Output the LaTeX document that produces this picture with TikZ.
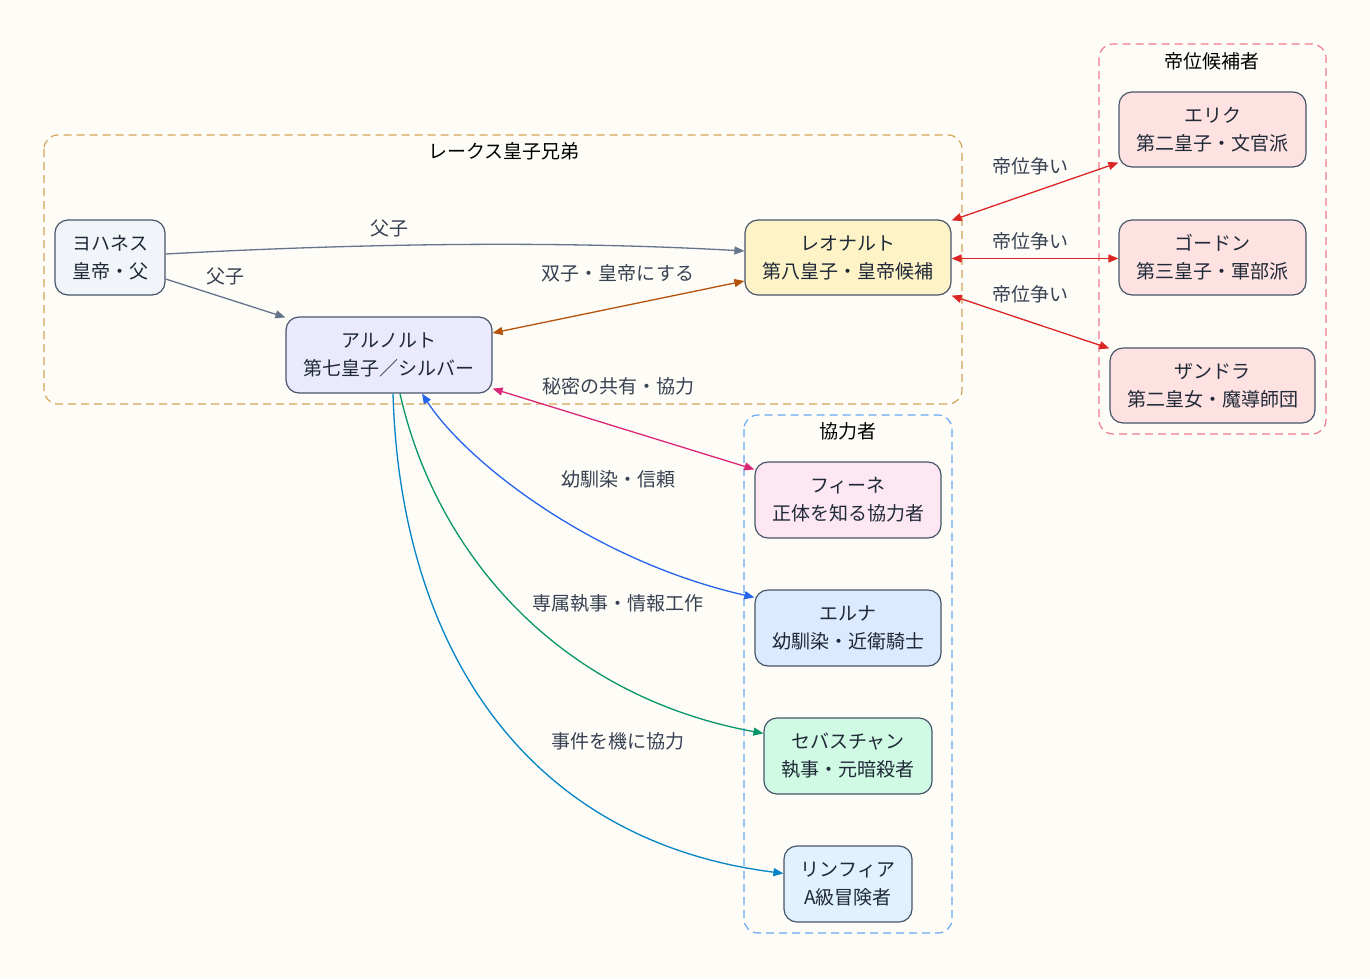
\documentclass[tikz,border=0pt]{standalone}
\usepackage{fontspec}
\setmainfont{Noto Sans CJK JP}
\usetikzlibrary{arrows.meta}
\definecolor{bg}{HTML}{FDFCF7}
\definecolor{ink}{HTML}{1F2937}
\definecolor{lab}{HTML}{374151}
\definecolor{border}{HTML}{475569}
\definecolor{cgold}{HTML}{D4A55A}
\definecolor{cpink}{HTML}{F27A8C}
\definecolor{cblue}{HTML}{6AA8F2}
\definecolor{eslate}{HTML}{64748B}
\definecolor{ebrown}{HTML}{B45309}
\definecolor{ered}{HTML}{DC2626}
\definecolor{emag}{HTML}{DB2777}
\definecolor{eblue}{HTML}{2563EB}
\definecolor{egreen}{HTML}{059669}
\definecolor{ecyan}{HTML}{0284C7}
\definecolor{fslate}{HTML}{F1F5F9}
\definecolor{fyellow}{HTML}{FEF3C7}
\definecolor{fviolet}{HTML}{EBE9FE}
\definecolor{fred}{HTML}{FEE2E2}
\definecolor{fpink}{HTML}{FCE7F3}
\definecolor{fblue}{HTML}{DBEAFE}
\definecolor{fgreen}{HTML}{D1FAE5}
\definecolor{fsky}{HTML}{E0F2FE}
\tikzset{
  person/.style={draw=border, line width=1.2pt, rounded corners=13pt, align=center,
    text=ink, font=\fontsize{19}{28}\selectfont, inner sep=0pt},
  group/.style={dashed, dash pattern=on 8pt off 5pt, line width=1.2pt, rounded corners=14pt},
  grouptitle/.style={text=black, font=\fontsize{19}{22}\selectfont},
  elabel/.style={text=lab, font=\fontsize{19}{22}\selectfont},
  edge/.style={line width=1.3pt},
  tip/.style={-{Triangle[length=10pt,width=8pt]}},
  both/.style={{Triangle[length=10pt,width=8pt]}-{Triangle[length=10pt,width=8pt]}}
}
\begin{document}
\begin{tikzpicture}[x=1pt,y=-1pt]
\fill[bg] (0,0) rectangle (1370,978);
\useasboundingbox (0,0) rectangle (1370,978);

% groups
\draw[group, cgold] (44,135) rectangle (962,404);
\node[grouptitle] (t1) at (504,151) {レークス皇子兄弟};
\draw[group, cpink] (1099,44) rectangle (1326,434);
\node[grouptitle] (t2) at (1212,61) {帝位候補者};
\draw[group, cblue] (744,415) rectangle (952,933);
\node[grouptitle] (t3) at (848,431) {協力者};

% people
\node[person, fill=fslate, minimum width=110pt, minimum height=75pt] (jo) at (110,257.5) {ヨハネス\\皇帝・父};
\node[person, fill=fyellow, minimum width=206pt, minimum height=75pt] (le) at (848,257.5) {レオナルト\\第八皇子・皇帝候補};
\node[person, fill=fviolet, minimum width=206pt, minimum height=76pt] (ar) at (389,355) {アルノルト\\第七皇子／シルバー};
\node[person, fill=fred, minimum width=187pt, minimum height=75pt] (er) at (1212.5,129.5) {エリク\\第二皇子・文官派};
\node[person, fill=fred, minimum width=187pt, minimum height=75pt] (go) at (1212.5,257.5) {ゴードン\\第三皇子・軍部派};
\node[person, fill=fred, minimum width=205pt, minimum height=75pt] (sa) at (1212.5,385.5) {ザンドラ\\第二皇女・魔導師団};
\node[person, fill=fpink, minimum width=186pt, minimum height=76pt] (fi) at (848,500) {フィーネ\\正体を知る協力者};
\node[person, fill=fblue, minimum width=186pt, minimum height=76pt] (el) at (848,628) {エルナ\\幼馴染・近衛騎士};
\node[person, fill=fgreen, minimum width=168pt, minimum height=76pt] (se) at (848,756) {セバスチャン\\執事・元暗殺者};
\node[person, fill=fsky, minimum width=128pt, minimum height=76pt] (ri) at (848,884) {リンフィア\\A級冒険者};

% connectors
\draw[edge, eslate, tip] ([yshift=3.5]jo.east) .. controls (350,244) and (550,240) .. ([yshift=6.5]le.west);
\draw[edge, eslate, tip] ([yshift=-21.5]jo.east) -- ([yshift=-1]ar.north west);
\draw[edge, ebrown, both] ([yshift=22]ar.east) -- ([yshift=-23.5]le.west);
\draw[edge, ered, both] ([yshift=-1]le.north east) -- ([yshift=5]er.south west);
\draw[edge, ered, both] ([yshift=-1]le.east) -- ([yshift=-1]go.west);
\draw[edge, ered, both] (le.south east) -- ([yshift=-1]sa.north west);
\draw[edge, emag, both] ([yshift=5]ar.south east) -- ([yshift=-8]fi.north west);
\draw[edge, eblue, both] ([xshift=33]ar.south) .. controls (465,460) and (590,560) .. ([yshift=-8]el.north west);
\draw[edge, egreen, tip] ([xshift=11]ar.south) .. controls (435,550) and (555,695) .. ([yshift=-16]se.north west);
\draw[edge, ecyan, tip] ([xshift=4]ar.south) .. controls (400,640) and (520,840) .. ([yshift=-28]ri.north west);

% connector labels
\node[elabel] (l1) at (389,228) {父子};
\node[elabel] (l2) at (225,276) {父子};
\node[elabel] (l3) at (618,273) {双子・皇帝にする};
\node[elabel] (l4) at (1030,166) {帝位争い};
\node[elabel] (l5) at (1030,241) {帝位争い};
\node[elabel] (l6) at (1030,294) {帝位争い};
\node[elabel] (l7) at (618,386) {秘密の共有・協力};
\node[elabel] (l8) at (618,479) {幼馴染・信頼};
\node[elabel] (l9) at (618,603) {専属執事・情報工作};
\node[elabel] (l10) at (618,741) {事件を機に協力};
\end{tikzpicture}
\end{document}
